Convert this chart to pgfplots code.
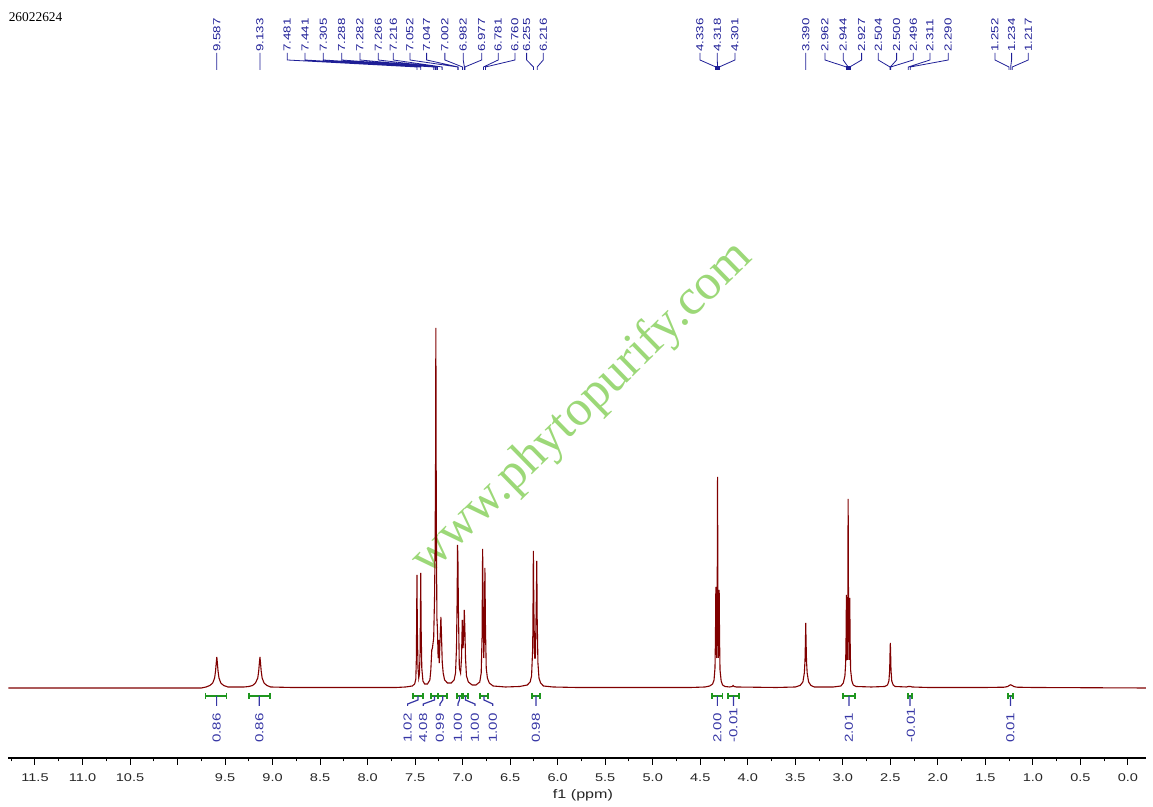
\documentclass[border=0pt]{standalone}
\usepackage{pgfplots}
\pgfplotsset{compat=1.18}
\usepackage{fontspec}
\setmainfont{Liberation Sans}
\newfontfamily\nmr{Liberation Sans}[FakeStretch=1.3]
\newfontfamily\serif{Liberation Serif}

\definecolor{specred}{RGB}{128,0,0}
\definecolor{peakblue}{RGB}{30,30,150}
\definecolor{intblue}{RGB}{55,55,165}
\definecolor{intgreen}{RGB}{30,150,30}
\definecolor{wmgreen}{RGB}{145,212,105}

\begin{document}
\begin{tikzpicture}[
    peaklab/.style={rotate=90, anchor=west, inner sep=0pt, text=peakblue,
      font=\nmr\fontsize{5.1}{5}\selectfont},
    intlab/.style={rotate=90, anchor=west, inner sep=0pt, text=intblue,
      font=\nmr\fontsize{5.8}{6}\selectfont}]
  \begin{axis}[
      scale only axis,
      width=568.8pt, height=379pt,
      x dir=reverse,
      xmin=-0.19, xmax=11.78,
      ymin=0, ymax=758,
      axis x line=bottom,
      axis y line=none,
      x axis line style={-, line width=0.6pt},
      ytick=\empty,
      xtick={0,0.5,1,1.5,2,2.5,3,3.5,4,4.5,5,5.5,6,6.5,7,7.5,8,8.5,9,9.5,10,10.5,11,11.5},
      xticklabels={0.0,0.5,1.0,1.5,2.0,2.5,3.0,3.5,4.0,4.5,5.0,5.5,6.0,6.5,7.0,7.5,8.0,8.5,9.0,9.5,,10.5,11.0,11.5},
      minor xtick={0.25,0.75,...,11.75},
      tick align=outside,
      major tick length=3.3pt,
      minor tick length=1.7pt,
      tick style={black, line width=0.5pt},
      xticklabel style={font=\nmr\fontsize{5.6}{6}\selectfont, text=black!85, inner sep=0pt, anchor=north},
      xticklabel shift=4.5pt,
      clip=false,
    ]

    % watermark
    \node[rotate=44.3, text=wmgreen, opacity=0.9,
      font=\serif\fontsize{25.3}{26}\selectfont] at (axis cs:5.74,349) {www.phytopurify.com};

    % spectrum (baseline at 70)
    \addplot[specred, line width=0.55pt] coordinates {
      (11.78,70) (9.75,70) (9.70,71) (9.66,72.5) (9.63,75) (9.61,80) (9.600,87)
      (9.593,95) (9.587,101) (9.581,95) (9.574,87) (9.564,80) (9.545,75)
      (9.515,72.5) (9.47,71) (9.30,71) (9.25,71.5) (9.21,72.5) (9.18,75)
      (9.156,80) (9.146,87) (9.139,95) (9.133,101) (9.127,95) (9.120,87)
      (9.110,80) (9.09,75) (9.06,72.5) (9.02,71) (8.80,70.5) (7.70,70.5)
      (7.60,71) (7.53,72) (7.505,74) (7.493,79) (7.487,100) (7.484,140)
      (7.481,183) (7.477,130) (7.470,90) (7.462,80) (7.455,84) (7.448,105)
      (7.444,150) (7.441,185) (7.437,130) (7.430,90) (7.418,77) (7.40,74)
      (7.37,74) (7.345,78) (7.335,88) (7.325,108) (7.318,110) (7.305,120)
      (7.296,160) (7.290,210) (7.285,300) (7.282,430) (7.279,300) (7.275,200)
      (7.271,140) (7.266,130) (7.258,100) (7.252,118) (7.246,95) (7.238,118)
      (7.229,141) (7.222,120) (7.215,96) (7.205,85) (7.19,78) (7.16,75)
      (7.12,75) (7.09,78) (7.075,85) (7.065,110) (7.058,160) (7.054,213)
      (7.050,200) (7.045,150) (7.035,90) (7.022,85) (7.012,100) (7.004,138)
      (6.996,110) (6.990,120) (6.983,148) (6.977,130) (6.970,100) (6.960,82)
      (6.94,76) (6.90,73) (6.86,73) (6.82,76) (6.805,85) (6.796,120)
      (6.790,209) (6.785,160) (6.778,100) (6.772,120) (6.766,190) (6.760,130)
      (6.752,90) (6.740,80) (6.72,75) (6.68,72) (6.55,71) (6.40,71.5)
      (6.32,73) (6.29,76) (6.275,82) (6.263,110) (6.259,160) (6.256,207)
      (6.251,150) (6.243,100) (6.235,100) (6.226,150) (6.220,197) (6.216,140)
      (6.208,95) (6.197,80) (6.18,75) (6.15,72) (6.05,71) (5.80,70.5)
      (4.60,70.5) (4.45,71) (4.40,72) (4.37,74) (4.355,78) (4.345,90)
      (4.340,120) (4.336,171) (4.332,120) (4.327,100) (4.322,150) (4.318,281)
      (4.314,150) (4.309,100) (4.305,120) (4.301,168) (4.297,120) (4.292,88)
      (4.28,77) (4.265,73) (4.24,71.5) (4.19,71) (4.165,71.5) (4.155,72.5)
      (4.145,71.5) (4.12,71) (3.70,70.5) (3.50,71) (3.45,72.5) (3.42,76)
      (3.405,85) (3.398,97) (3.393,118) (3.390,135) (3.387,118) (3.382,97)
      (3.375,85) (3.36,76) (3.335,72.5) (3.30,71) (3.10,71) (3.02,72)
      (2.995,75) (2.978,82) (2.970,95) (2.966,120) (2.962,163) (2.958,120)
      (2.953,98) (2.948,150) (2.944,259) (2.940,150) (2.935,98) (2.931,120)
      (2.927,160) (2.923,118) (2.918,88) (2.905,77) (2.89,73) (2.86,71.5)
      (2.70,71) (2.56,71.5) (2.53,73) (2.515,77) (2.507,88) (2.503,105)
      (2.500,115) (2.497,105) (2.493,88) (2.485,77) (2.47,73) (2.45,71.5)
      (2.33,71) (2.31,71.5) (2.29,71.5) (2.27,71) (2.10,70.5) (1.50,70.5)
      (1.30,70.8) (1.265,71.5) (1.25,72.5) (1.234,73.2) (1.218,72.5) (1.20,71.5)
      (1.17,70.8) (1.00,70.5) (-0.19,70)
    };

    % peak pick leaders
    \addplot[peakblue, line width=0.4pt, unbounded coords=jump] coordinates {
      (9.587,705) (9.587,688) (nan,nan)
      (9.133,705) (9.133,688) (nan,nan)
      (8.846,705) (8.846,698) (7.481,691) (7.481,688) (nan,nan)
      (8.659,705) (8.659,698) (7.441,691) (7.441,688) (nan,nan)
      (8.467,705) (8.467,698) (7.305,691) (7.305,688) (nan,nan)
      (8.273,705) (8.273,698) (7.288,691) (7.288,688) (nan,nan)
      (8.081,705) (8.081,698) (7.282,691) (7.282,688) (nan,nan)
      (7.888,705) (7.888,698) (7.266,691) (7.266,688) (nan,nan)
      (7.730,705) (7.730,698) (7.216,691) (7.216,688) (nan,nan)
      (7.555,705) (7.555,698) (7.052,691) (7.052,688) (nan,nan)
      (7.379,705) (7.379,698) (7.047,691) (7.047,688) (nan,nan)
      (7.187,705) (7.187,698) (7.002,691) (7.002,688) (nan,nan)
      (6.994,705) (6.994,698) (6.982,691) (6.982,688) (nan,nan)
      (6.800,705) (6.800,698) (6.977,691) (6.977,688) (nan,nan)
      (6.626,705) (6.626,698) (6.781,691) (6.781,688) (nan,nan)
      (6.450,705) (6.450,698) (6.760,691) (6.760,688) (nan,nan)
      (6.327,705) (6.327,698) (6.255,691) (6.255,688) (nan,nan)
      (6.152,705) (6.152,698) (6.216,691) (6.216,688) (nan,nan)
      (4.503,705) (4.503,698) (4.336,691) (4.336,688) (nan,nan)
      (4.321,705) (4.321,698) (4.318,691) (4.318,688) (nan,nan)
      (4.135,705) (4.135,698) (4.301,691) (4.301,688) (nan,nan)
      (3.390,705) (3.390,688) (nan,nan)
      (3.188,705) (3.188,698) (2.962,691) (2.962,688) (nan,nan)
      (2.996,705) (2.996,698) (2.944,691) (2.944,688) (nan,nan)
      (2.802,705) (2.802,698) (2.927,691) (2.927,688) (nan,nan)
      (2.627,705) (2.627,698) (2.504,691) (2.504,688) (nan,nan)
      (2.434,705) (2.434,698) (2.500,691) (2.500,688) (nan,nan)
      (2.259,705) (2.259,698) (2.496,691) (2.496,688) (nan,nan)
      (2.083,705) (2.083,698) (2.311,691) (2.311,688) (nan,nan)
      (1.891,705) (1.891,698) (2.290,691) (2.290,688) (nan,nan)
      (1.399,705) (1.399,698) (1.252,691) (1.252,688) (nan,nan)
      (1.224,705) (1.224,698) (1.234,691) (1.234,688) (nan,nan)
      (1.049,705) (1.049,698) (1.217,691) (1.217,688)
    };
    \addplot[only marks, mark=square*, mark size=0.9pt, peakblue] coordinates {
      (4.318,690) (2.944,690)
    };

    % peak labels
    \node[peaklab] at (axis cs:9.587,706) {9.587};
    \node[peaklab] at (axis cs:9.133,706) {9.133};
    \node[peaklab] at (axis cs:8.846,706) {7.481};
    \node[peaklab] at (axis cs:8.659,706) {7.441};
    \node[peaklab] at (axis cs:8.467,706) {7.305};
    \node[peaklab] at (axis cs:8.273,706) {7.288};
    \node[peaklab] at (axis cs:8.081,706) {7.282};
    \node[peaklab] at (axis cs:7.888,706) {7.266};
    \node[peaklab] at (axis cs:7.730,706) {7.216};
    \node[peaklab] at (axis cs:7.555,706) {7.052};
    \node[peaklab] at (axis cs:7.379,706) {7.047};
    \node[peaklab] at (axis cs:7.187,706) {7.002};
    \node[peaklab] at (axis cs:6.994,706) {6.982};
    \node[peaklab] at (axis cs:6.800,706) {6.977};
    \node[peaklab] at (axis cs:6.626,706) {6.781};
    \node[peaklab] at (axis cs:6.450,706) {6.760};
    \node[peaklab] at (axis cs:6.327,706) {6.255};
    \node[peaklab] at (axis cs:6.152,706) {6.216};
    \node[peaklab] at (axis cs:4.503,706) {4.336};
    \node[peaklab] at (axis cs:4.321,706) {4.318};
    \node[peaklab] at (axis cs:4.135,706) {4.301};
    \node[peaklab] at (axis cs:3.390,706) {3.390};
    \node[peaklab] at (axis cs:3.188,706) {2.962};
    \node[peaklab] at (axis cs:2.996,706) {2.944};
    \node[peaklab] at (axis cs:2.802,706) {2.927};
    \node[peaklab] at (axis cs:2.627,706) {2.504};
    \node[peaklab] at (axis cs:2.434,706) {2.500};
    \node[peaklab] at (axis cs:2.259,706) {2.496};
    \node[peaklab] at (axis cs:2.083,706) {2.311};
    \node[peaklab] at (axis cs:1.891,706) {2.290};
    \node[peaklab] at (axis cs:1.399,706) {1.252};
    \node[peaklab] at (axis cs:1.224,706) {1.234};
    \node[peaklab] at (axis cs:1.049,706) {1.217};

    % integration brackets
    \addplot[intgreen, line width=0.6pt, unbounded coords=jump] coordinates {
      (9.705,65) (9.705,59) (nan,nan) (9.705,62) (9.484,62) (nan,nan) (9.484,65) (9.484,59) (nan,nan)
      (9.249,65) (9.249,59) (nan,nan) (9.249,62) (9.028,62) (nan,nan) (9.028,65) (9.028,59) (nan,nan)
      (7.523,65) (7.523,59) (nan,nan) (7.523,62) (7.418,62) (nan,nan) (7.418,65) (7.418,59) (nan,nan)
      (7.334,65) (7.334,59) (nan,nan) (7.334,62) (7.262,62) (nan,nan) (7.262,65) (7.262,59) (nan,nan)
      (7.255,65) (7.255,59) (nan,nan) (7.255,62) (7.165,62) (nan,nan) (7.165,65) (7.165,59) (nan,nan)
      (7.060,65) (7.060,59) (nan,nan) (7.060,62) (7.008,62) (nan,nan) (7.008,65) (7.008,59) (nan,nan)
      (6.997,65) (6.997,59) (nan,nan) (6.997,62) (6.944,62) (nan,nan) (6.944,65) (6.944,59) (nan,nan)
      (6.818,65) (6.818,59) (nan,nan) (6.818,62) (6.734,62) (nan,nan) (6.734,65) (6.734,59) (nan,nan)
      (6.271,65) (6.271,59) (nan,nan) (6.271,62) (6.187,62) (nan,nan) (6.187,65) (6.187,59) (nan,nan)
      (4.377,65) (4.377,59) (nan,nan) (4.377,62) (4.262,62) (nan,nan) (4.262,65) (4.262,59) (nan,nan)
      (4.209,65) (4.209,59) (nan,nan) (4.209,62) (4.093,62) (nan,nan) (4.093,65) (4.093,59) (nan,nan)
      (2.999,65) (2.999,59) (nan,nan) (2.999,62) (2.872,62) (nan,nan) (2.872,65) (2.872,59) (nan,nan)
      (2.315,65) (2.315,59) (nan,nan) (2.315,62) (2.273,62) (nan,nan) (2.273,65) (2.273,59) (nan,nan)
      (1.263,65) (1.263,59) (nan,nan) (1.263,62) (1.210,62) (nan,nan) (1.210,65) (1.210,59)
    };
    \addplot[intblue, line width=0.6pt, unbounded coords=jump] coordinates {
      (9.589,62) (9.589,52) (nan,nan)
      (9.140,62) (9.140,52) (nan,nan)
      (7.471,62) (7.471,58) (7.579,54) (7.579,52) (nan,nan)
      (7.297,62) (7.297,58) (7.415,54) (7.415,52) (nan,nan)
      (7.210,62) (7.210,58) (7.239,54) (7.239,52) (nan,nan)
      (7.034,62) (7.034,58) (7.050,54) (7.050,52) (nan,nan)
      (6.971,62) (6.971,58) (6.871,54) (6.871,52) (nan,nan)
      (6.776,62) (6.776,58) (6.683,54) (6.683,52) (nan,nan)
      (6.229,62) (6.229,52) (nan,nan)
      (4.320,62) (4.320,52) (nan,nan)
      (4.151,62) (4.151,52) (nan,nan)
      (2.936,62) (2.936,52) (nan,nan)
      (2.294,62) (2.294,52) (nan,nan)
      (1.236,62) (1.236,52)
    };

    % integration values
    \node[intlab] at (axis cs:9.589,15) {0.86};
    \node[intlab] at (axis cs:9.140,15) {0.86};
    \node[intlab] at (axis cs:7.579,15) {1.02};
    \node[intlab] at (axis cs:7.415,15) {4.08};
    \node[intlab] at (axis cs:7.239,15) {0.99};
    \node[intlab] at (axis cs:7.050,15) {1.00};
    \node[intlab] at (axis cs:6.871,15) {1.00};
    \node[intlab] at (axis cs:6.683,15) {1.00};
    \node[intlab] at (axis cs:6.229,15) {0.98};
    \node[intlab] at (axis cs:4.320,15) {2.00};
    \node[intlab] at (axis cs:4.151,15) {-0.01};
    \node[intlab] at (axis cs:2.936,15) {2.01};
    \node[intlab] at (axis cs:2.285,15) {-0.01};
    \node[intlab] at (axis cs:1.236,15) {0.01};

    % sample id and axis title
    \node[anchor=west, inner sep=0pt, font=\serif\fontsize{6.7}{7}\selectfont]
      at (axis cs:11.78,741) {26022624};
    \node[font=\nmr\fontsize{6.2}{7}\selectfont, text=black!85]
      at (axis cs:5.734,-37) {f1 (ppm)};
  \end{axis}
  \pgfresetboundingbox
  \path (-4.2pt,-24.5pt) rectangle (572.3pt,379pt);
\end{tikzpicture}
\end{document}
